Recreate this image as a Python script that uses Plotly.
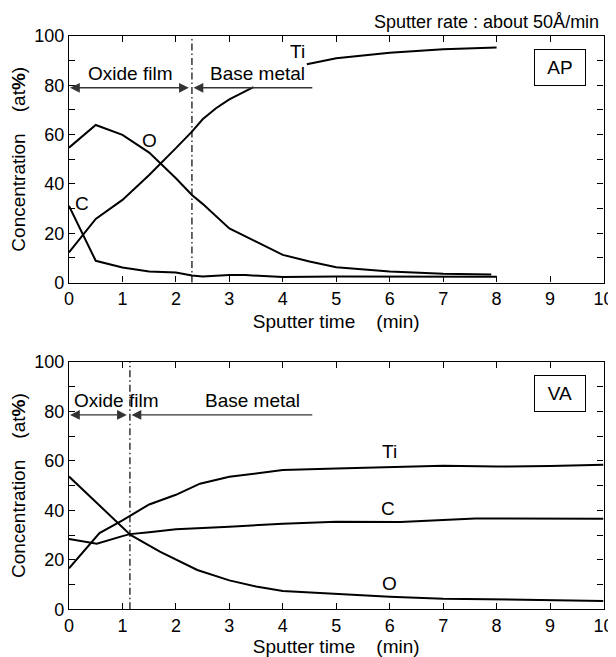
import plotly.graph_objects as go

# ---------------- data ----------------
# AP panel
ap_ti_t = [0, 0.5, 1.0, 1.5, 2.0, 2.3, 2.5, 2.75, 3.0, 3.2, 3.45, None, 4.45, 5.0, 6.0, 7.0, 8.0]
ap_ti = [12.2, 25.8, 33.5, 43.6, 54.5, 61.2, 66.2, 70.7, 74.3, 76.4, 79.3, None, 88.5, 91.0, 93.2, 94.6, 95.3]
ap_o_t = [0, 0.5, 1.0, 1.5, 2.0, 2.3, 2.5, 3.0, 3.5, 4.0, 4.5, 5.0, 6.0, 7.0, 7.9]
ap_o = [54.7, 63.9, 59.9, 52.7, 42.3, 35.5, 31.9, 21.9, 16.6, 11.2, 8.5, 6.2, 4.5, 3.5, 3.2]
ap_c_t = [0, 0.5, 1.0, 1.5, 2.0, 2.3, 2.5, 3.0, 3.3, 4.0, 5.0, 6.0, 7.0, 8.0]
ap_c = [31.1, 8.8, 6.1, 4.5, 4.05, 2.8, 2.4, 3.0, 3.0, 2.2, 2.4, 2.4, 2.3, 2.3]

# VA panel
va_ti_t = [0, 0.57, 1.0, 1.14, 1.5, 2.0, 2.45, 3.0, 4.0, 5.0, 6.0, 7.0, 8.0, 9.0, 10.0]
va_ti = [16.6, 30.8, 36.0, 37.8, 42.4, 46.3, 50.8, 53.6, 56.3, 56.9, 57.6, 58.0, 57.7, 57.9, 58.5]
va_c_t = [0, 0.52, 1.0, 1.14, 1.5, 2.0, 3.0, 4.0, 5.0, 6.0, 6.2, 7.0, 7.6, 8.0, 9.0, 10.0]
va_c = [28.4, 26.5, 29.6, 30.4, 31.2, 32.4, 33.4, 34.6, 35.4, 35.4, 35.3, 36.1, 36.7, 36.7, 36.7, 36.6]
va_o_t = [0, 0.5, 1.0, 1.15, 1.7, 2.0, 2.4, 3.0, 3.5, 4.0, 5.0, 6.0, 7.0, 8.0, 9.0, 10.0]
va_o = [53.7, 43.4, 33.2, 30.1, 23.3, 20.2, 15.9, 11.7, 9.2, 7.4, 6.2, 5.1, 4.3, 3.9, 3.6, 3.4]

# oxide film / base metal boundary (min) and arrow level (at%)
boundary = {"AP": 2.3, "VA": 1.14}
arrow_level = {"AP": 79.0, "VA": 78.6}
base_arrow_end = 4.58

x_ticks = list(range(0, 11))
y_ticks = [0, 20, 40, 60, 80, 100]

FONT = "Liberation Sans, Arial, Helvetica, sans-serif"
BLACK = "#000000"

# page body has an 8px margin: figure is sized so it fills the 616x657 window
W, H = 608, 649
OFF = 8

fig = go.Figure()

series = [
    ("x", "y", ap_ti_t, ap_ti, "Ti"),
    ("x", "y", ap_o_t, ap_o, "O"),
    ("x", "y", ap_c_t, ap_c, "C"),
    ("x2", "y2", va_ti_t, va_ti, "Ti"),
    ("x2", "y2", va_c_t, va_c, "C"),
    ("x2", "y2", va_o_t, va_o, "O"),
]
for xa, ya, t, v, name in series:
    fig.add_trace(go.Scatter(x=t, y=v, mode="lines", name=name, xaxis=xa, yaxis=ya,
                             line=dict(color=BLACK, width=2), connectgaps=False,
                             showlegend=False, hoverinfo="skip"))

xdom = [(69 - OFF) / W, (603.5 - OFF) / W]
ydom_top = [1 - (282.5 - OFF) / H, 1 - (36 - OFF) / H]
ydom_bot = [1 - (609.3 - OFF) / H, 1 - (362 - OFF) / H]

xaxis_common = dict(
    range=[0, 10], tickvals=x_ticks, ticks="inside", ticklen=6, tickwidth=1,
    tickcolor=BLACK, showline=True, linecolor=BLACK, linewidth=1.3, mirror="ticks",
    showgrid=False, zeroline=False, tickfont=dict(family=FONT, size=18, color=BLACK),
    title=dict(text="Sputter time\u00a0\u00a0\u00a0\u00a0(min)",
               font=dict(family=FONT, size=19, color=BLACK), standoff=6),
    automargin=False, fixedrange=True,
)
yaxis_common = dict(
    range=[0, 100], tickvals=y_ticks, ticks="inside", ticklen=6, tickwidth=1,
    tickcolor=BLACK, showline=True, linecolor=BLACK, linewidth=1.3, mirror="ticks",
    minor=dict(dtick=10, ticks="inside", ticklen=6, tickwidth=1, tickcolor=BLACK),
    showgrid=False, zeroline=False, tickfont=dict(family=FONT, size=18, color=BLACK),
    title=dict(text="Concentration\u00a0\u00a0\u00a0\u00a0(at<b>%</b>)",
               font=dict(family=FONT, size=19, color=BLACK), standoff=4),
    automargin=False, fixedrange=True,
)

fig.update_layout(
    width=W, height=H,
    margin=dict(l=0, r=0, t=0, b=0, autoexpand=False),
    paper_bgcolor="white", plot_bgcolor="white",
    font=dict(family=FONT, color=BLACK),
    xaxis=dict(domain=xdom, anchor="y", **xaxis_common),
    yaxis=dict(domain=ydom_top, anchor="x", **yaxis_common),
    xaxis2=dict(domain=xdom, anchor="y2", **xaxis_common),
    yaxis2=dict(domain=ydom_bot, anchor="x2", **yaxis_common),
)

annotations = []
shapes = []

def lab(xref, yref, x, y, text, size=19, **kw):
    d = dict(xref=xref, yref=yref, x=x, y=y, text=text, showarrow=False,
             xanchor="center", yanchor="middle",
             font=dict(family=FONT, size=size, color=BLACK))
    d.update(kw)
    annotations.append(d)

panels = [("AP", "x", "y"), ("VA", "x2", "y2")]
for key, xr, yr in panels:
    b = boundary[key]
    lvl = arrow_level[key]
    # dash-dot boundary line
    shapes.append(dict(type="line", xref=xr, yref=yr + " domain", x0=b, x1=b, y0=0, y1=1,
                       line=dict(color=BLACK, width=1.2, dash="7px,3px,1.5px,3px")))
    # oxide film double arrow
    annotations.append(dict(xref=xr, yref=yr, axref=xr, ayref=yr,
                            x=0.02, y=lvl, ax=b - 0.03, ay=lvl, text="",
                            showarrow=True, arrowside="end+start", arrowhead=2,
                            startarrowhead=2, arrowsize=1.5, startarrowsize=1.5,
                            arrowwidth=1.3, arrowcolor="#333333"))
    # base metal arrow
    annotations.append(dict(xref=xr, yref=yr, axref=xr, ayref=yr,
                            x=b + 0.03, y=lvl, ax=base_arrow_end, ay=lvl, text="",
                            showarrow=True, arrowhead=2, arrowsize=1.5,
                            arrowwidth=1.3, arrowcolor="#333333"))
    # sample box
    lab(xr, yr, 9.18, 87.2, key, size=19, bordercolor=BLACK, borderwidth=1,
        width=48, height=33, bgcolor="white")

# region labels
lab("x", "y", 1.14, 84.6, "Oxide film")
lab("x", "y", 3.53, 84.6, "Base metal")
lab("x2", "y2", 0.87, 84.5, "Oxide film")
lab("x2", "y2", 3.44, 84.5, "Base metal")

# element labels
lab("x", "y", 4.28, 93.6, "Ti")
lab("x", "y", 1.5, 57.8, "O")
lab("x", "y", 0.24, 32.0, "C")
lab("x2", "y2", 6.0, 64.0, "Ti")
lab("x2", "y2", 5.96, 40.8, "C")
lab("x2", "y2", 6.0, 10.5, "O")

# sputter rate note
lab("paper", "paper", (601 - OFF) / W, 1 - (22 - OFF) / H, "Sputter rate : about 50Å/min",
    size=18, xanchor="right", yanchor="middle")

fig.update_layout(annotations=annotations, shapes=shapes)
fig.write_html("out.html")
